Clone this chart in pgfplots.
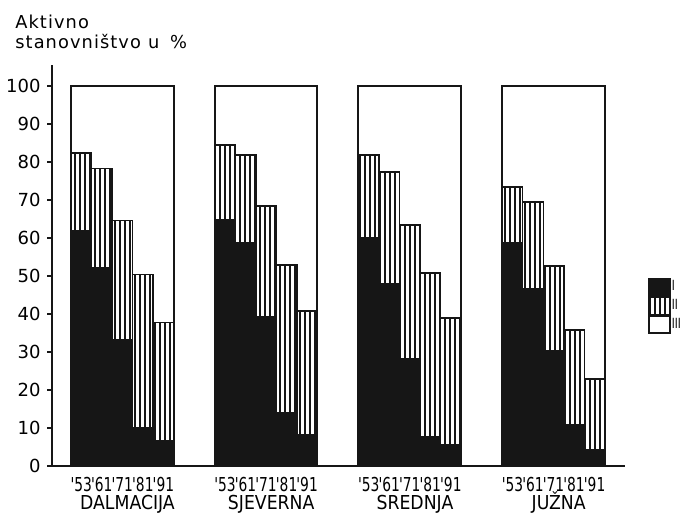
\documentclass[border=0pt]{standalone}
\usepackage{fontspec}
\setmainfont{DejaVu Sans}
\newfontfamily\titlefont[LetterSpace=6]{DejaVu Sans}
\newfontfamily\ticksfont[FakeStretch=0.72]{DejaVu Sans}
\newfontfamily\catfont[FakeStretch=0.9]{DejaVu Sans}
\usepackage{pgfplots}
\usepackage{pgfplotstable}
\pgfplotsset{compat=1.18}
\usetikzlibrary{patterns.meta}

\definecolor{ink}{RGB}{22,22,22}

% I = black, II = hatched, III = white (to 100 %)
\pgfplotstableread{
x   I     II    III
0   61.9  20.4  17.7
1   52.2  26.0  21.8
2   33.2  31.4  35.4
3   10.1  40.3  49.6
4   6.7   31.1  62.2
7   64.7  19.8  15.5
8   58.7  23.1  18.2
9   39.2  29.2  31.6
10  13.9  39.0  47.1
11  8.2   32.6  59.2
14  60.0  21.8  18.2
15  47.9  29.5  22.6
16  28.2  35.2  36.6
17  7.6   43.2  49.2
18  5.5   33.4  61.1
21  58.7  14.7  26.6
22  46.6  22.9  30.5
23  30.3  22.3  47.4
24  11.0  24.8  64.2
25  4.2   18.7  77.1
}\shares

\pgfplotsset{
  baseaxis/.style={
    at={(0,0)}, anchor=south west,
    width=286.5pt, height=200.5pt, scale only axis,
    xmin=-1.425, xmax=26.48, ymin=0, ymax=105.5,
  },
  boxlegend/.style={
    legend image code/.code={\draw[##1,draw=ink,line width=0.7pt] (0pt,-4.3pt) rectangle (10.5pt,4.3pt);}
  },
}

\begin{document}
\begin{tikzpicture}
\path[use as bounding box] (-26pt,-25pt) rectangle (315.5pt,233pt);

\node[anchor=north west, inner sep=0pt, align=left,
      font=\titlefont\fontsize{8.9}{10}\selectfont] at (-18.5pt,225.5pt)
  {Aktivno\\stanovništvo\hspace{0.4em}u\hspace{0.6em}\%};

\begin{axis}[
  baseaxis,
  axis x line*=bottom, axis y line*=left,
  axis line style={line width=1.2pt, draw=ink},
  ybar stacked, bar width=1,
  ytick={0,10,...,100},
  tick align=outside,
  major tick length=2.5pt,
  ytick style={line width=1pt, draw=ink},
  xtick={0,1,2,3,4,7,8,9,10,11,14,15,16,17,18,21,22,23,24,25},
  xticklabels={'53,'61,'71,'81,'91,'53,'61,'71,'81,'91,'53,'61,'71,'81,'91,'53,'61,'71,'81,'91},
  xtick style={draw=none},
  xticklabel style={font=\ticksfont\fontsize{9.6}{10}\selectfont,
    inner sep=0pt, anchor=north, text height=7pt, text depth=0pt, yshift=-3pt},
  yticklabel style={font=\fontsize{9}{10}\selectfont, inner sep=0pt, xshift=-3pt},
  /pgf/number format/assume math mode=true,
  legend style={at={(1.040,0.47)}, anchor=north west, draw=none, fill=none,
    inner sep=0pt, row sep=0pt, nodes={inner sep=0.6pt},
    font=\ticksfont\fontsize{7}{7}\selectfont},
  legend cell align=left,
]
\addplot[fill=ink, draw=ink, line width=0.7pt, boxlegend] table[x=x,y=I]{\shares};
\addplot[draw=ink, line width=0.7pt, boxlegend,
  pattern={Lines[angle=90,distance=2.5pt,line width=0.75pt]}, pattern color=ink]
  table[x=x,y=II]{\shares};
\addplot[fill=white, draw=none, boxlegend] table[x=x,y=III]{\shares};
\legend{I,II,III}
\end{axis}

\begin{axis}[
  baseaxis,
  axis line style={draw=none},
  ytick=\empty,
  xtick={2.25,9.25,16.25,23.25},
  xticklabels={DALMACIJA,SJEVERNA,SREDNJA,JUŽNA},
  xtick style={draw=none},
  xticklabel style={font=\catfont\fontsize{9.6}{10}\selectfont,
    inner sep=0pt, anchor=north, text height=7pt, text depth=0pt, yshift=-14.5pt},
]
\addplot[ink, line width=1pt, no marks] coordinates {(-0.5,0) (-0.5,100) (4.5,100) (4.5,0)};
\addplot[ink, line width=1pt, no marks] coordinates {(6.5,0) (6.5,100) (11.5,100) (11.5,0)};
\addplot[ink, line width=1pt, no marks] coordinates {(13.5,0) (13.5,100) (18.5,100) (18.5,0)};
\addplot[ink, line width=1pt, no marks] coordinates {(20.5,0) (20.5,100) (25.5,100) (25.5,0)};
\end{axis}
\end{tikzpicture}
\end{document}
